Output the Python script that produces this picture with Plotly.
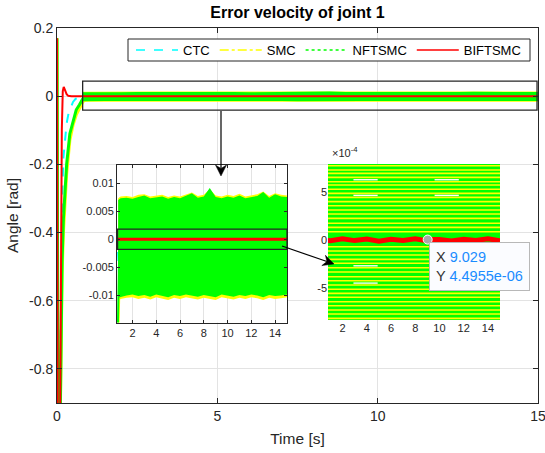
import numpy as np
import plotly.graph_objects as go

# ---------------- data ----------------
series_names = ["CTC", "SMC", "NFTSMC", "BIFTSMC"]

# transients (s, rad)
t_ctc = [0, 0.015, 0.04, 0.08, 0.12, 0.16, 0.2, 0.25, 0.3, 0.36, 0.43, 0.5, 0.58, 0.7, 0.9, 15]
ctc = [0.17, -0.4, -1.3, -1.0, -0.55, -0.3, -0.18, -0.12, -0.08, -0.05, -0.03, -0.017, -0.008, -0.002, 0, 0]

t_smc = [0, 0.015, 0.04, 0.08, 0.12, 0.16, 0.2, 0.25, 0.3, 0.4, 0.5, 0.6, 0.7, 0.8, 0.9, 1.0]
smc = [0.17, -0.4, -1.3, -1.1, -0.75, -0.52, -0.4, -0.3, -0.23, -0.13, -0.085, -0.055, -0.035, -0.018, -0.006, 0]

t_nft = [0, 0.015, 0.04, 0.08, 0.12, 0.16, 0.2, 0.25, 0.3, 0.4, 0.5, 0.6, 0.7, 0.8, 0.9]
nft = [0.17, -0.4, -1.3, -1.1, -0.7, -0.48, -0.36, -0.26, -0.2, -0.11, -0.075, -0.04, -0.025, -0.008, 0]

t_bif = [0, 0.01, 0.03, 0.06, 0.09, 0.12, 0.15, 0.18, 0.21, 0.25, 0.3, 0.35]
bif = [0.17, -0.5, -1.4, -1.6, -1.1, -0.45, -0.1, 0.015, 0.027, 0.018, 0.006, 0.001]

# steady-state BIFTSMC (s, 1e-6 rad)
t_bif_ss = [0.45, 1, 2, 3, 4, 5, 6, 7, 8, 9, 9.029, 10, 11, 12, 13, 14, 15]
bif_ss_e6 = [0, -8, 12, -6, 10, -12, 7, -4, 14, -9, 4.4955, 6, -11, 8, -5, 12, -7]

# steady-state chattering envelopes of SMC / NFTSMC (s, 1e-3 rad)
t_band = [0.8, 1, 1.5, 2, 2.5, 3, 3.5, 4, 4.5, 5, 5.5, 6, 6.5, 7, 7.5, 8, 8.5, 9, 9.5, 10,
          10.5, 11, 11.5, 12, 12.5, 13, 13.5, 14, 14.5, 15]
nft_up = [7.0, 7.3, 7.4, 7.2, 7.5, 7.8, 7.3, 7.4, 7.6, 7.2, 7.5, 7.3, 7.7, 8.2, 7.4, 7.6, 9.1, 7.5, 7.3, 7.6,
          7.4, 7.8, 7.3, 7.5, 7.7, 8.4, 7.4, 8.0, 7.6, 7.5]
nft_lo = [-10.4, -10.2, -10.0, -9.8, -10.1, -9.9, -10.2, -9.8, -10.0, -10.3, -9.9, -10.1, -9.8, -10.0, -10.2,
          -9.9, -10.1, -10.3, -9.8, -10.0, -10.2, -9.9, -10.1, -9.8, -10.0, -10.3, -9.9, -10.1, -10.0, -9.8]
smc_up = [7.3, 7.6, 7.7, 7.5, 7.9, 8.0, 7.6, 7.8, 7.9, 7.5, 7.8, 7.6, 8.0, 8.3, 7.7, 7.9, 8.9, 7.8, 7.6, 7.9,
          7.7, 8.1, 7.6, 7.8, 8.0, 8.5, 7.7, 8.2, 7.9, 7.8]
smc_lo = [-10.9, -10.6, -10.4, -10.3, -10.6, -10.4, -10.7, -10.3, -10.5, -10.8, -10.4, -10.6, -10.3, -10.5,
          -10.7, -10.4, -10.6, -10.8, -10.3, -10.5, -10.7, -10.4, -10.6, -10.3, -10.5, -10.8, -10.4, -10.6,
          -10.5, -10.3]

# SMC chatter levels seen as stripes in the second zoom (1e-4 rad)
smc_stripes_e4 = [7.69, 7.25, 6.9, 6.49, 6.04, 5.69, 5.25, 4.83, 4.42, 3.97, 3.55, 3.11, 2.69, 2.24, 1.73,
                  1.31, 0.86, -0.69, -1.14, -1.55, -2.0, -2.41, -2.87, -3.31, -3.8, -4.21, -4.66, -5.1,
                  -5.52, -5.93, -6.39, -6.8, -7.25, -7.66, -8.11]
# gaps (level 1e-4, t start, t end)
gap_levels_e4 = [6.04, 6.04, 4.42, 4.42, -2.87, -2.87, -4.66, -4.66]
gap_t0 = [2.9, 9.6, 2.9, 9.6, 2.9, 9.6, 2.9, 9.6]
gap_t1 = [4.9, 11.6, 4.9, 11.6, 4.9, 11.6, 4.9, 11.6]

tip_x, tip_y = 9.029, 4.4955e-06

# ticks
main_xticks = [0, 5, 10, 15]
main_yticks = [-0.8, -0.6, -0.4, -0.2, 0, 0.2]
main_yticklabels = ["-0.8", "-0.6", "-0.4", "-0.2", "0", "0.2"]
in1_xticks = [2, 4, 6, 8, 10, 12, 14]
in1_yticks = [-0.01, -0.005, 0, 0.005, 0.01]
in1_yticklabels = ["-0.01", "-0.005", "0", "0.005", "0.01"]
in2_yticks = [-5e-4, 0, 5e-4]
in2_yticklabels = ["-5", "0", "5"]

# ---------------- styles ----------------
C_CTC, C_SMC, C_NFT, C_BIF = "#00ffff", "#ffff00", "#00ff00", "#ff0000"
AX = "#262626"
GRID = "#e3e3e3"
FONT = "Liberation Sans"

W, H = 545, 453
def px(x0, x1):
    return [x0 / W, x1 / W]
def py(top, bottom):
    return [(H - bottom) / H, (H - top) / H]

t_band_a = np.array(t_band)
nu, nl = np.array(nft_up) * 1e-3, np.array(nft_lo) * 1e-3
su, sl = np.array(smc_up) * 1e-3, np.array(smc_lo) * 1e-3
band_x = list(t_band_a) + list(t_band_a[::-1])
nft_band_y = list(nu) + list(nl[::-1])
smc_band_y = list(su) + list(sl[::-1])
bif_all_t = t_bif + t_bif_ss
bif_all = bif + list(np.array(bif_ss_e6) * 1e-6)

fig = go.Figure()

# legend-only entries
for name, col, dash in zip(series_names, [C_CTC, C_SMC, C_NFT, C_BIF], ["dash", "dashdot", "dot", "solid"]):
    fig.add_trace(go.Scatter(x=[None], y=[None], mode="lines", name=name,
                             line=dict(color=col, width=1.5, dash=dash)))

def add_series(xa, ya, lw_tr, lw_smc, lw_nft, red_w):
    fig.add_trace(go.Scatter(x=t_ctc, y=ctc, mode="lines", showlegend=False, xaxis=xa, yaxis=ya,
                             line=dict(color=C_CTC, width=2, dash="dash"), hoverinfo="skip"))
    fig.add_trace(go.Scatter(x=t_smc, y=smc, mode="lines", showlegend=False, xaxis=xa, yaxis=ya,
                             line=dict(color=C_SMC, width=lw_tr), hoverinfo="skip"))
    fig.add_trace(go.Scatter(x=band_x, y=smc_band_y, mode="lines", fill="toself", fillcolor=C_SMC,
                             showlegend=False, xaxis=xa, yaxis=ya,
                             line=dict(color=C_SMC, width=lw_smc), hoverinfo="skip"))
    fig.add_trace(go.Scatter(x=t_nft, y=nft, mode="lines", showlegend=False, xaxis=xa, yaxis=ya,
                             line=dict(color=C_NFT, width=lw_tr), hoverinfo="skip"))
    fig.add_trace(go.Scatter(x=band_x, y=nft_band_y, mode="lines", fill="toself", fillcolor=C_NFT,
                             showlegend=False, xaxis=xa, yaxis=ya,
                             line=dict(color=C_NFT, width=lw_nft), hoverinfo="skip"))
    fig.add_trace(go.Scatter(x=bif_all_t, y=bif_all, mode="lines", showlegend=False, xaxis=xa, yaxis=ya,
                             line=dict(color=C_BIF, width=red_w), hoverinfo="skip"))

# main axes
add_series("x", "y", 3, 4, 3, 2)
# inset 1
add_series("x2", "y2", 2, 0, 0, 3)

# inset 2 : green field, yellow stripes, white gaps, red band, data tip
fig.add_trace(go.Scatter(x=band_x, y=nft_band_y, mode="lines", fill="toself", fillcolor=C_NFT,
                         showlegend=False, xaxis="x3", yaxis="y3", line=dict(color=C_NFT, width=0),
                         hoverinfo="skip"))
sx, sy = [], []
for lv in smc_stripes_e4:
    sx += [t_band[0], t_band[-1], None]
    sy += [lv * 1e-4, lv * 1e-4, None]
fig.add_trace(go.Scatter(x=sx, y=sy, mode="lines", showlegend=False, xaxis="x3", yaxis="y3",
                         line=dict(color=C_SMC, width=1.6), hoverinfo="skip"))
gx, gy = [], []
for lv, a, b in zip(gap_levels_e4, gap_t0, gap_t1):
    gx += [a, b, None]
    gy += [(lv + 0.2) * 1e-4, (lv + 0.2) * 1e-4, None]
fig.add_trace(go.Scatter(x=gx, y=gy, mode="lines", showlegend=False, xaxis="x3", yaxis="y3",
                         line=dict(color="white", width=1.4), hoverinfo="skip"))
fig.add_trace(go.Scatter(x=bif_all_t, y=bif_all, mode="lines", showlegend=False, xaxis="x3", yaxis="y3",
                         line=dict(color=C_BIF, width=5), hoverinfo="skip"))
fig.add_trace(go.Scatter(x=[tip_x], y=[tip_y], mode="markers", showlegend=False, xaxis="x3", yaxis="y3",
                         marker=dict(color="#a8a8a8", size=9, line=dict(color="white", width=1)),
                         hoverinfo="skip"))

# ---------------- axes ----------------
main_font = dict(family=FONT, size=14, color=AX)
small_font = dict(family=FONT, size=11, color=AX)

common = dict(showline=True, linecolor=AX, linewidth=1, mirror="ticks", ticks="inside", tickcolor=AX,
              showgrid=True, gridcolor=GRID, gridwidth=1, zeroline=False)

fig.update_layout(
    width=W, height=H, margin=dict(l=0, r=0, t=0, b=0, autoexpand=False), autosize=False,
    paper_bgcolor="white", plot_bgcolor="white",
    font=dict(family=FONT, color=AX),
    title=dict(text="<b>Error velocity of joint 1</b>", x=297.5 / W, xref="paper", xanchor="center",
               y=(H - 12) / H, yref="paper", yanchor="middle", font=dict(family=FONT, size=16, color="black")),
    xaxis=dict(domain=px(57, 538), range=[0, 15], tickvals=main_xticks, ticklen=5, tickfont=main_font,
               ticklabeloverflow="allow",
               title=dict(text="Time [s]", font=dict(family=FONT, size=15.5, color=AX), standoff=10),
               anchor="y", **common),
    yaxis=dict(domain=py(28, 403), range=[-0.9, 0.2], tickvals=main_yticks, ticktext=main_yticklabels,
               ticklen=5, tickfont=main_font, ticklabeloverflow="allow",
               title=dict(text="Angle [rad]", font=dict(family=FONT, size=15.5, color=AX), standoff=6),
               anchor="x", **common),
    xaxis2=dict(domain=px(117, 287), range=[0.7, 15], tickvals=in1_xticks, ticklen=3, tickfont=small_font,
                anchor="y2", **common),
    yaxis2=dict(domain=py(165, 322.5), range=[-0.0148, 0.0132], tickvals=in1_yticks, ticktext=in1_yticklabels,
                ticklen=3, tickfont=small_font, anchor="x2", **common),
    xaxis3=dict(domain=px(328, 500), range=[0.8, 15.0], tickvals=in1_xticks, tickfont=small_font,
                showline=False, ticks="", showgrid=False, zeroline=False, anchor="y3"),
    yaxis3=dict(domain=py(164, 320), range=[-8.28e-4, 7.87e-4], tickvals=in2_yticks, ticktext=in2_yticklabels,
                tickfont=small_font, showline=False, ticks="", showgrid=False, zeroline=False, anchor="x3"),
    legend=dict(orientation="h", x=131 / W, y=(H - 50) / H, xref="paper", yref="paper",
                xanchor="left", yanchor="middle",
                bgcolor="rgba(0,0,0,0)", borderwidth=0, font=dict(family=FONT, size=13, color="black"),
                itemwidth=42),
    showlegend=True,
)

# ---------------- shapes ----------------
def arrow_shapes(x0, y0, x1, y1, head_len=11, head_w=5.5, notch=3.5):
    """Arrow from pixel (x0,y0) to pixel (x1,y1) drawn as paper shapes."""
    dx, dy = x1 - x0, y1 - y0
    L = (dx * dx + dy * dy) ** 0.5
    ux, uy = dx / L, dy / L
    nx, ny = -uy, ux
    bx, by = x1 - ux * head_len, y1 - uy * head_len
    pts = [(x1, y1), (bx + nx * head_w, by + ny * head_w), (x1 - ux * (head_len - notch), y1 - uy * (head_len - notch)),
           (bx - nx * head_w, by - ny * head_w)]
    path = "M " + " L ".join("%.5f,%.5f" % (x / W, (H - y) / H) for x, y in pts) + " Z"
    ex, ey = x1 - ux * (head_len - notch), y1 - uy * (head_len - notch)
    return [
        dict(type="line", xref="paper", yref="paper", x0=x0 / W, y0=(H - y0) / H, x1=ex / W, y1=(H - ey) / H,
             line=dict(color="black", width=1.2), layer="above"),
        dict(type="path", xref="paper", yref="paper", path=path, fillcolor="black",
             line=dict(color="black", width=0.5), layer="above"),
    ]

shapes = [
    # white backgrounds of the zoom axes
    dict(type="rect", xref="x2", yref="y2", x0=0.7, x1=15, y0=-0.0148, y1=0.0132,
         fillcolor="white", line=dict(width=0), layer="below"),
    dict(type="rect", xref="x3", yref="y3", x0=0.8, x1=15.0, y0=-8.28e-4, y1=7.87e-4,
         fillcolor="white", line=dict(width=0), layer="below"),
    # zoom rectangles
    dict(type="rect", xref="x", yref="y", x0=0.8, x1=14.97, y0=-0.041, y1=0.044,
         line=dict(color=AX, width=1.3), layer="above"),
    dict(type="rect", xref="x2", yref="y2", x0=0.75, x1=15, y0=-0.0018, y1=0.0018,
         line=dict(color=AX, width=1.3), layer="above"),
    # legend box
    dict(type="rect", xref="paper", yref="paper", x0=128 / W, x1=530 / W, y0=(H - 61) / H, y1=(H - 39) / H,
         fillcolor="white", line=dict(color=AX, width=1), layer="above"),
]
shapes += arrow_shapes(221, 111, 221, 176)
shapes += arrow_shapes(282, 246, 334, 264)
fig.update_layout(shapes=shapes)

# ---------------- annotations ----------------
ann = [
    dict(x=330 / W, y=(H - 152) / H, xref="paper", yref="paper", xanchor="left", yanchor="middle",
         text="×10<sup>-4</sup>", showarrow=False, font=dict(family=FONT, size=11, color=AX)),
    dict(x=429 / W, y=(H - 242) / H, xref="paper", yref="paper", xanchor="left", yanchor="top", align="left",
         text=("X <span style='color:#1a8cff'>%s</span><br>Y <span style='color:#1a8cff'>%s</span>"
               % ("9.029", "4.4955e-06")),
         showarrow=False, bgcolor="#fbfcff", bordercolor="#b8b8b8", borderwidth=1, borderpad=6,
         font=dict(family=FONT, size=14.5, color="#333333")),
]
fig.update_layout(annotations=ann)

fig.write_html("out.html")
